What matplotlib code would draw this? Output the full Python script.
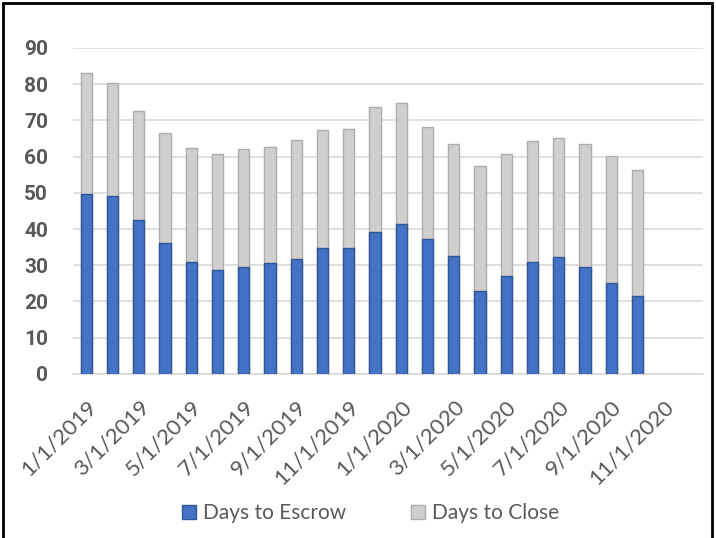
import matplotlib.pyplot as plt
from matplotlib.patches import Rectangle
import numpy as np

plt.rcParams['font.family'] = ['Lato', 'DejaVu Sans']

# Monthly axis categories (Jan 2019 - Dec 2020)
months = [f"{m}/1/{y}" for y in (2019, 2020) for m in range(1, 13)]

# Days values (Jan 2019 - Oct 2020)
days_to_escrow = [49.6, 49.1, 42.5, 36.0, 30.9, 28.6, 29.5, 30.6, 31.7, 34.8, 34.8,
                  39.1, 41.3, 37.3, 32.5, 22.8, 27.0, 31.0, 32.4, 29.4, 25.2, 21.5]
days_to_close = [83.1, 80.3, 72.7, 66.4, 62.4, 60.6, 62.2, 62.6, 64.7, 67.4, 67.6,
                 73.6, 74.9, 68.1, 63.4, 57.3, 60.6, 64.3, 65.2, 63.6, 60.1, 56.2]

escrowColor = '#4472C4'
closeColor = '#D0CECE'
textColor = '#595959'
tickFont = ['Roboto', 'DejaVu Sans']

fig = plt.figure(figsize=(7.16, 5.38), dpi=100)
ax = fig.add_axes([0.102, 0.305, 0.880, 0.606])

x = np.arange(len(days_to_close))
w = 0.43
ax.bar(x, days_to_close, width=w, color=closeColor, edgecolor='#AEABAB',
       linewidth=1.0, label='Days to Close', zorder=2)
ax.bar(x, days_to_escrow, width=w, color=escrowColor, edgecolor='#2F5597',
       linewidth=1.0, label='Days to Escrow', zorder=3)

ax.set_xlim(-0.5, len(months) - 0.5)
ax.set_ylim(0, 90)
ax.set_yticks(range(0, 91, 10))
ax.yaxis.grid(True, color='#D9D9D9', linewidth=1.2, zorder=0)
ax.set_axisbelow(True)

ticks = list(range(0, len(months), 2))
ax.set_xticks(ticks)
ax.set_xticklabels([months[i] for i in ticks], rotation=45, ha='right',
                   rotation_mode='anchor', fontsize=16, color=textColor)
for lbl in ax.get_yticklabels():
    lbl.set_fontsize(15)
    lbl.set_fontweight('bold')
    lbl.set_color(textColor)
    lbl.set_family(tickFont)
ax.tick_params(axis='both', length=0)
ax.tick_params(axis='y', pad=18)
ax.tick_params(axis='x', pad=16)

for s in ['top', 'right', 'left']:
    ax.spines[s].set_visible(False)
ax.spines['bottom'].set_color('#D9D9D9')
ax.spines['bottom'].set_linewidth(1.2)

# legend in Excel order: escrow first
handles, labels = ax.get_legend_handles_labels()
fig.legend(handles[::-1], labels[::-1], loc='center', bbox_to_anchor=(0.518, 0.046),
           ncol=2, frameon=False, fontsize=15, labelcolor=textColor,
           handlelength=0.67, handleheight=0.67, handletextpad=0.34, columnspacing=3.1)

# black frame around the picture
fig.patches.append(Rectangle((0.004, -0.01), 0.99, 1.005, transform=fig.transFigure,
                             fill=False, edgecolor='black', linewidth=2))

fig.savefig('out.png', dpi=100)
